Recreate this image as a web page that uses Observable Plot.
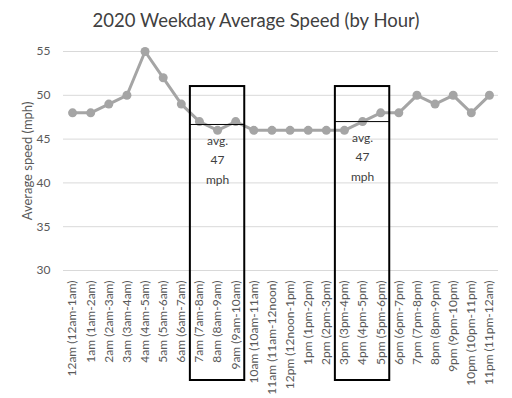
<!DOCTYPE html>
<html><head><meta charset="utf-8">
<script src="https://cdn.jsdelivr.net/npm/d3@7"></script>
<script src="https://cdn.jsdelivr.net/npm/@observablehq/plot@0.6"></script>
<style>
body{margin:0;background:#fff;font-family:Lato,"Open Sans",sans-serif;}
#title{height:38px;line-height:40px;text-align:center;font-size:18.5px;color:#404040;width:512px;}
</style></head><body>
<div id="title">2020 Weekday Average Speed (by Hour)</div>
<div id="chart"></div>
<script>
const hours = ["12am (12am-1am)","1am (1am-2am)","2am (2am-3am)","3am (3am-4am)","4am (4am-5am)","5am (5am-6am)","6am (6am-7am)","7am (7am-8am)","8am (8am-9am)","9am (9am-10am)","10am (10am-11am)","11am (11am-12noon)","12pm (12noon-1pm)","1pm (1pm-2pm)","2pm (2pm-3pm)","3pm (3pm-4pm)","4pm (4pm-5pm)","5pm (5pm-6pm)","6pm (6pm-7pm)","7pm (7pm-8pm)","8pm (8pm-9pm)","9pm (9pm-10pm)","10pm (10pm-11pm)","11pm (11pm-12am)"];
const speeds = [48,48,49,50,55,52,49,47,46,47,46,46,46,46,46,46,47,48,48,50,49,50,48,50];
const yTicks = [30,35,40,45,50,55];
const boxStart = ["7am (7am-8am)","3pm (3pm-4pm)"];
const boxEnd = ["9am (9am-10am)","5pm (5pm-6pm)"];
const boxTop = [51,51];
const boxAvg = [46.67,47];
const boxLabel = ["avg.\n47\nmph","avg.\n47\nmph"];

const data = hours.map((h,i)=>({i, h, v: speeds[i]}));
const boxes = boxStart.map((s,k)=>({
  x1: hours.indexOf(s)-0.5, x2: hours.indexOf(boxEnd[k])+0.5,
  top: boxTop[k], avg: boxAvg[k], label: boxLabel[k]
}));
const gray = "#595959";
const plot = Plot.plot({
  width: 512, height: 360,
  marginTop: 13, marginBottom: 128, marginLeft: 63, marginRight: 14,
  style: {fontFamily: "Lato, 'Open Sans', sans-serif", fontSize: "11px", color: gray, background: "#fff"},
  x: {type: "linear", domain: [-0.5, hours.length-0.5]},
  y: {domain: [30, 55]},
  marks: [
    Plot.ruleY(yTicks, {stroke: "#d9d9d9", strokeWidth: 1}),
    Plot.axisY(yTicks, {tickSize: 0, tickPadding: 13, fontSize: 12, label: null}),
    Plot.text(["Average speed (mph)"], {frameAnchor: "left", textAnchor: "middle", dx: -36, rotate: -90, fontSize: 13, fill: gray}),
    Plot.axisX(d3.range(hours.length), {tickSize: 0, tickPadding: 10, tickRotate: -90, tickFormat: i => hours[i], fontSize: 12, label: null}),
    Plot.line(data, {x: "i", y: "v", stroke: "#a5a5a5", strokeWidth: 3}),
    Plot.dot(data, {x: "i", y: "v", fill: "#a5a5a5", r: 4.5}),
    Plot.rect(boxes, {x1: "x1", x2: "x2", y1: "top", y2: 30, fill: "none", stroke: "#000", strokeWidth: 2, insetBottom: -110, clip: false}),
    Plot.ruleY(boxes, {y: "avg", x1: "x1", x2: "x2", stroke: "#000", strokeWidth: 1}),
    Plot.text(boxes, {x: d => (d.x1+d.x2)/2, y: "avg", text: "label", lineAnchor: "top", dy: 6, lineHeight: 1.65, fontSize: 12, fill: "#404040"})
  ]
});
document.getElementById("chart").appendChild(plot);
</script>
</body></html>
